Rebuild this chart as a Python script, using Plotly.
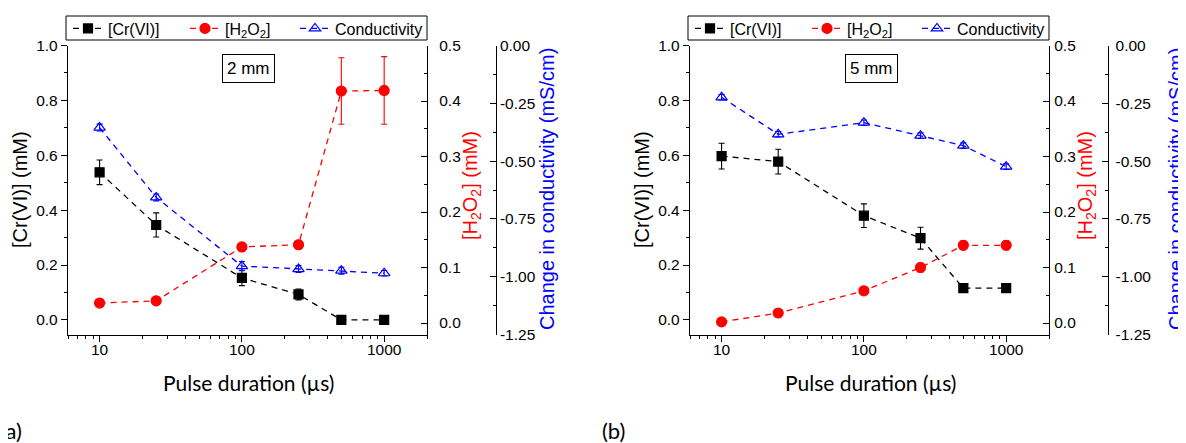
import plotly.graph_objects as go

# ---------------- data ----------------
pulse_us = [10, 25, 100, 250, 500, 1000]

cr_2mm = [0.538, 0.346, 0.153, 0.093, 0.0, 0.0]
cr_2mm_err = [0.045, 0.044, 0.028, 0.020, 0.004, 0.004]
h2o2_2mm = [0.036, 0.040, 0.137, 0.141, 0.418, 0.419]
h2o2_2mm_err = [0.004, 0.004, 0.008, 0.008, 0.060, 0.061]
cond_2mm = [-0.355, -0.657, -0.954, -0.967, -0.974, -0.985]
cond_2mm_err = [0.015, 0.015, 0.020, 0.015, 0.015, 0.012]

cr_5mm = [0.597, 0.577, 0.380, 0.298, 0.116, 0.116]
cr_5mm_err = [0.047, 0.045, 0.043, 0.040, 0.015, 0.015]
h2o2_5mm = [0.002, 0.018, 0.058, 0.100, 0.140, 0.140]
h2o2_5mm_err = [0.003, 0.003, 0.004, 0.008, 0.008, 0.008]
cond_5mm = [-0.224, -0.384, -0.334, -0.390, -0.433, -0.524]
cond_5mm_err = [0.012, 0.012, 0.012, 0.012, 0.012, 0.012]

x_major_ticks = [10, 100, 1000]
x_tick_text = ["10", "100", "1000"]
x_minor_ticks = [6, 7, 8, 9, 20, 30, 40, 50, 60, 70, 80, 90,
                 200, 300, 400, 500, 600, 700, 800, 900, 2000]
cr_ticks = [0.0, 0.2, 0.4, 0.6, 0.8, 1.0]
h2o2_ticks = [0.0, 0.1, 0.2, 0.3, 0.4, 0.5]
cond_ticks = [0.0, -0.25, -0.5, -0.75, -1.0, -1.25]
cond_tick_text = ["0.00", "-0.25", "-0.50", "-0.75", "-1.00", "-1.25"]

series_names = ["[Cr(VI)]", "[H<sub>2</sub>O<sub>2</sub>]", "Conductivity"]
panel_labels = ["2 mm", "5 mm"]

# ---------------- layout helpers ----------------
OFF = 8                      # page body margin in the browser
W, H = 1186 - OFF, 443 - OFF
FONT = "Liberation Sans"
FONT2 = "Lato"
RED, BLUE, BLACK = "#FF0000", "#0000FF", "#000000"

def px(x):
    return (x - OFF) / W

def py(y):
    return 1 - (y - OFF) / H

TOP, BOT = 45.5, 334.5
panels = [
    dict(left=68, right=427, cond=495.7, h2o2_std=8, cond_std=0,
         red_x=471, blue_x=547, label="(a)", label_x=-2),
    dict(left=690, right=1049, cond=1108.3, h2o2_std=1, cond_std=3,
         red_x=1086, blue_x=1176, label="(b)", label_x=600),
]
data_sets = [
    (cr_2mm, cr_2mm_err, h2o2_2mm, h2o2_2mm_err, cond_2mm, cond_2mm_err),
    (cr_5mm, cr_5mm_err, h2o2_5mm, h2o2_5mm_err, cond_5mm, cond_5mm_err),
]
legend_offsets = [0, 117, 227]   # px from panel left to each legend entry

fig = go.Figure()
layout = dict(
    width=W, height=H, margin=dict(l=0, r=0, t=0, b=0, pad=0, autoexpand=False),
    paper_bgcolor="white", plot_bgcolor="white",
    font=dict(family=FONT, size=15, color=BLACK),
    annotations=[], shapes=[], showlegend=True,
)

XR = [0.778, 3.301]
CR_R = [-0.053, 1.0]
H2_R = [-0.0207, 0.5]
CO_R = [-1.25, 0.0]
LW = 1.3
TF = 15.5

axis_common = dict(showgrid=False, zeroline=False, showline=True,
                   linecolor=BLACK, linewidth=LW, tickcolor=BLACK,
                   tickwidth=LW, tickfont=dict(family=FONT, size=TF, color=BLACK))

dash = "6px,5px"

def key(a):
    return "xaxis" + a[1:] if a.startswith("x") else "yaxis" + a[1:]

def text_ann(text, x, y, size, color=BLACK, family=FONT, angle=0, **kw):
    d = dict(text=text, xref="paper", yref="paper", x=px(x), y=py(y),
             xanchor="center", yanchor="middle", showarrow=False, textangle=angle,
             font=dict(family=family, size=size, color=color))
    d.update(kw)
    return d

leg_idx = 0
for i, (p, ds) in enumerate(zip(panels, data_sets)):
    cr, cr_e, h2, h2_e, co, co_e = ds
    xb = "x" if i == 0 else "x2"
    xt = "x3" if i == 0 else "x4"
    yc, yh, yk = ("y", "y2", "y3") if i == 0 else ("y4", "y5", "y6")
    dom = [px(p["left"]), px(p["right"])]
    ydom = [py(BOT), py(TOP)]

    layout[key(xb)] = dict(axis_common, type="log", range=XR, domain=dom, anchor=yc,
                           tickmode="array", tickvals=x_major_ticks, ticktext=x_tick_text,
                           ticks="outside", ticklen=6, ticklabelstandoff=-5,
                           minor=dict(tickmode="array", tickvals=x_minor_ticks, ticks="outside",
                                      ticklen=3, tickcolor=BLACK, tickwidth=LW))
    layout[key(xt)] = dict(axis_common, type="log", range=XR, domain=dom, anchor=yc,
                           overlaying=xb, side="top", showticklabels=False,
                           tickmode="array", tickvals=x_major_ticks,
                           ticks="inside", ticklen=6,
                           minor=dict(tickmode="array", tickvals=x_minor_ticks, ticks="inside",
                                      ticklen=3, tickcolor=BLACK, tickwidth=LW))
    layout[key(yc)] = dict(axis_common, range=CR_R, domain=ydom, anchor=xb,
                           tickmode="array", tickvals=cr_ticks, tickformat=".1f",
                           ticks="outside", ticklen=6,
                           minor=dict(dtick=0.1, tick0=0, ticks="outside", ticklen=3,
                                      tickcolor=BLACK, tickwidth=LW))
    layout[key(yh)] = dict(axis_common, range=H2_R, domain=ydom, anchor=xb,
                           overlaying=yc, side="right",
                           tickmode="array", tickvals=h2o2_ticks, tickformat=".1f",
                           ticks="inside", ticklen=6, ticklabelstandoff=p["h2o2_std"],
                           minor=dict(dtick=0.05, tick0=0, ticks="inside", ticklen=3,
                                      tickcolor=BLACK, tickwidth=LW))
    layout[key(yk)] = dict(axis_common, range=CO_R, domain=ydom, anchor="free",
                           position=px(p["cond"]), overlaying=yc, side="right",
                           tickmode="array", tickvals=cond_ticks, ticktext=cond_tick_text,
                           ticks="inside", ticklen=6, ticklabelstandoff=p["cond_std"],
                           minor=dict(dtick=0.125, tick0=0, ticks="inside", ticklen=3,
                                      tickcolor=BLACK, tickwidth=LW))

    # legend frame
    layout["shapes"].append(dict(type="rect", xref="paper", yref="paper",
                                 x0=px(p["left"] - 2), x1=px(p["right"]),
                                 y0=py(40), y1=py(16), line=dict(color=BLACK, width=1),
                                 fillcolor="white", layer="above"))

    specs = [
        (cr, cr_e, series_names[0], BLACK, "square", 9, yc),
        (h2, h2_e, series_names[1], RED, "circle", 10, yh),
        (co, co_e, series_names[2], BLUE, "triangle-up-open", 10, yk),
    ]
    for j, (vals, errs, name, col, sym, ms, ya) in enumerate(specs):
        leg_idx += 1
        leg = "legend" if leg_idx == 1 else "legend%d" % leg_idx
        fig.add_trace(go.Scatter(
            x=pulse_us, y=vals, name=name, mode="lines+markers",
            xaxis=xb, yaxis=ya, legend=leg,
            line=dict(color=col, width=LW, dash=dash),
            marker=dict(symbol=sym, size=ms, color=col,
                        line=dict(color=col, width=1.2)),
            error_y=dict(type="data", array=errs, visible=True, color=col,
                         thickness=1.1, width=3),
        ))
        layout[leg] = dict(x=px(p["left"] + legend_offsets[j]), y=py(28.5),
                           xanchor="left", yanchor="middle", orientation="h",
                           borderwidth=0, bgcolor="rgba(0,0,0,0)",
                           font=dict(family=FONT, size=16, color=BLACK),
                           itemwidth=30, tracegroupgap=0)

    ann = layout["annotations"]
    cx = (p["left"] + p["right"]) / 2
    ann.append(text_ann(panel_labels[i], p["left"] + 181, 68.5, 17,
                        bordercolor=BLACK, borderwidth=1, borderpad=4, bgcolor="white"))
    ann.append(text_ann("[Cr(VI)] (mM)", p["left"] - 48, 190, 20, angle=-90))
    ann.append(text_ann("[H<sub>2</sub>O<sub>2</sub>] (mM)", p["red_x"], 186, 20,
                        color=RED, angle=-90))
    ann.append(text_ann("Change in conductivity (mS/cm)", p["blue_x"], 189, 20,
                        color=BLUE, angle=-90))
    ann.append(text_ann("Pulse duration (µs)", cx + 1, 382, 21, family=FONT2))
    ann.append(text_ann(p["label"], p["label_x"], 430, 22, family=FONT2, xanchor="left"))

fig.update_layout(**layout)
fig.write_html("out.html")
